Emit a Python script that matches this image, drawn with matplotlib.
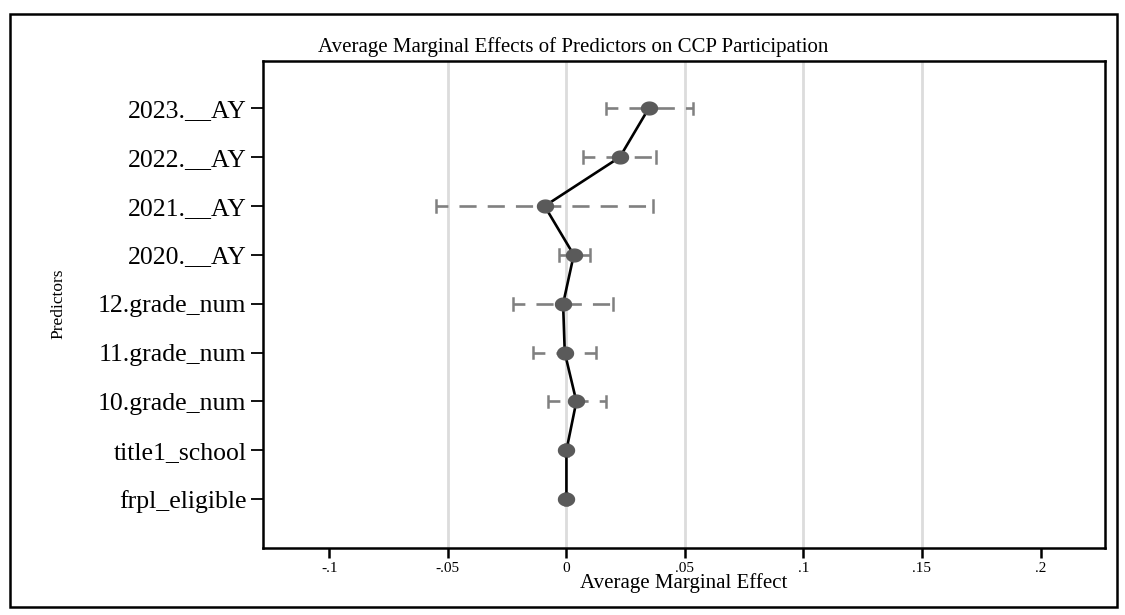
import matplotlib
matplotlib.use("Agg")
import matplotlib.pyplot as plt
import numpy as np
from matplotlib.path import Path
from matplotlib.patches import Rectangle

# ---- data (top to bottom order) ----
predictors = ["2023.__AY", "2022.__AY", "2021.__AY", "2020.__AY",
              "12.grade_num", "11.grade_num", "10.grade_num",
              "title1_school", "frpl_eligible"]
ame = [0.0347, 0.0225, -0.0092, 0.0031, -0.0014, -0.0007, 0.0042, 0.0000, 0.0000]
ci_low = [0.0166, 0.0070, -0.0549, -0.0031, -0.0225, -0.0141, -0.0078, -0.0008, -0.0004]
ci_high = [0.0532, 0.0377, 0.0366, 0.0098, 0.0197, 0.0124, 0.0165, 0.0008, 0.0004]
xticks = [-0.1, -0.05, 0, 0.05, 0.1, 0.15, 0.2]
xticklabels = ["-.1", "-.05", "0", ".05", ".1", ".15", ".2"]
grid_x = [-0.05, 0, 0.05, 0.1, 0.15]

plt.rcParams['font.family'] = ['Liberation Serif', 'DejaVu Serif']

W, H, DPI = 1125, 615, 100
fig = plt.figure(figsize=(W / DPI, H / DPI), dpi=DPI)
fig.patch.set_facecolor("white")

# outer frame
fig.patches.append(Rectangle((10 / W, 1 - 607 / H), 1107 / W, 593 / H,
                             transform=fig.transFigure, fill=False,
                             edgecolor="black", linewidth=1.8, zorder=0))

L, R, T, B = 263, 1105, 61, 548
ax = fig.add_axes([L / W, 1 - B / H, (R - L) / W, (B - T) / H])

n = len(predictors)
ypos = np.arange(n, 0, -1)

for gx in grid_x:
    ax.axvline(gx, color="#dcdcdc", linewidth=2, zorder=0)

# confidence intervals
for y, lo, hi in zip(ypos, ci_low, ci_high):
    ax.plot([lo, hi], [y, y], color="#808080", linewidth=1.9,
            linestyle=(2, (6.5, 4.2)), zorder=2, solid_capstyle="butt")
    ax.plot([lo, lo], [y - 0.12, y + 0.12], color="#808080", linewidth=1.8, zorder=2)
    ax.plot([hi, hi], [y - 0.12, y + 0.12], color="#808080", linewidth=1.8, zorder=2)

# ellipse marker
t = np.linspace(0, 2 * np.pi, 60)
ell = Path(np.column_stack([1.25 * np.cos(t), np.sin(t)]), closed=True)
ax.plot(ame, ypos, color="black", linewidth=1.9, zorder=3)
ax.plot(ame, ypos, linestyle="none", marker=ell, markersize=11.5,
        markerfacecolor="#5a5a5a", markeredgecolor="#5a5a5a", zorder=4)

ax.set_xlim(-0.128, 0.2272)
ax.set_ylim(0.0, 9.97)
ax.set_xticks(xticks)
ax.set_xticklabels(xticklabels, fontsize=11)
ax.set_yticks(ypos)
ax.set_yticklabels(predictors, fontsize=18.5)
ax.tick_params(axis="x", direction="out", length=7, width=1.8, pad=3)
ax.tick_params(axis="y", direction="out", length=9, width=1.3, pad=3)
for s in ax.spines.values():
    s.set_linewidth(1.8)
    s.set_color("black")

ax.set_xlabel("Average Marginal Effect", fontsize=15, labelpad=-1)
fig.text(58 / W, 1 - 304 / H, "Predictors", rotation=90, fontsize=12.5,
         ha="center", va="center")
fig.text(573 / W, 1 - 52 / H, "Average Marginal Effects of Predictors on CCP Participation",
         fontsize=15, ha="center", va="baseline")

fig.savefig("out.png", dpi=DPI, facecolor="white")
